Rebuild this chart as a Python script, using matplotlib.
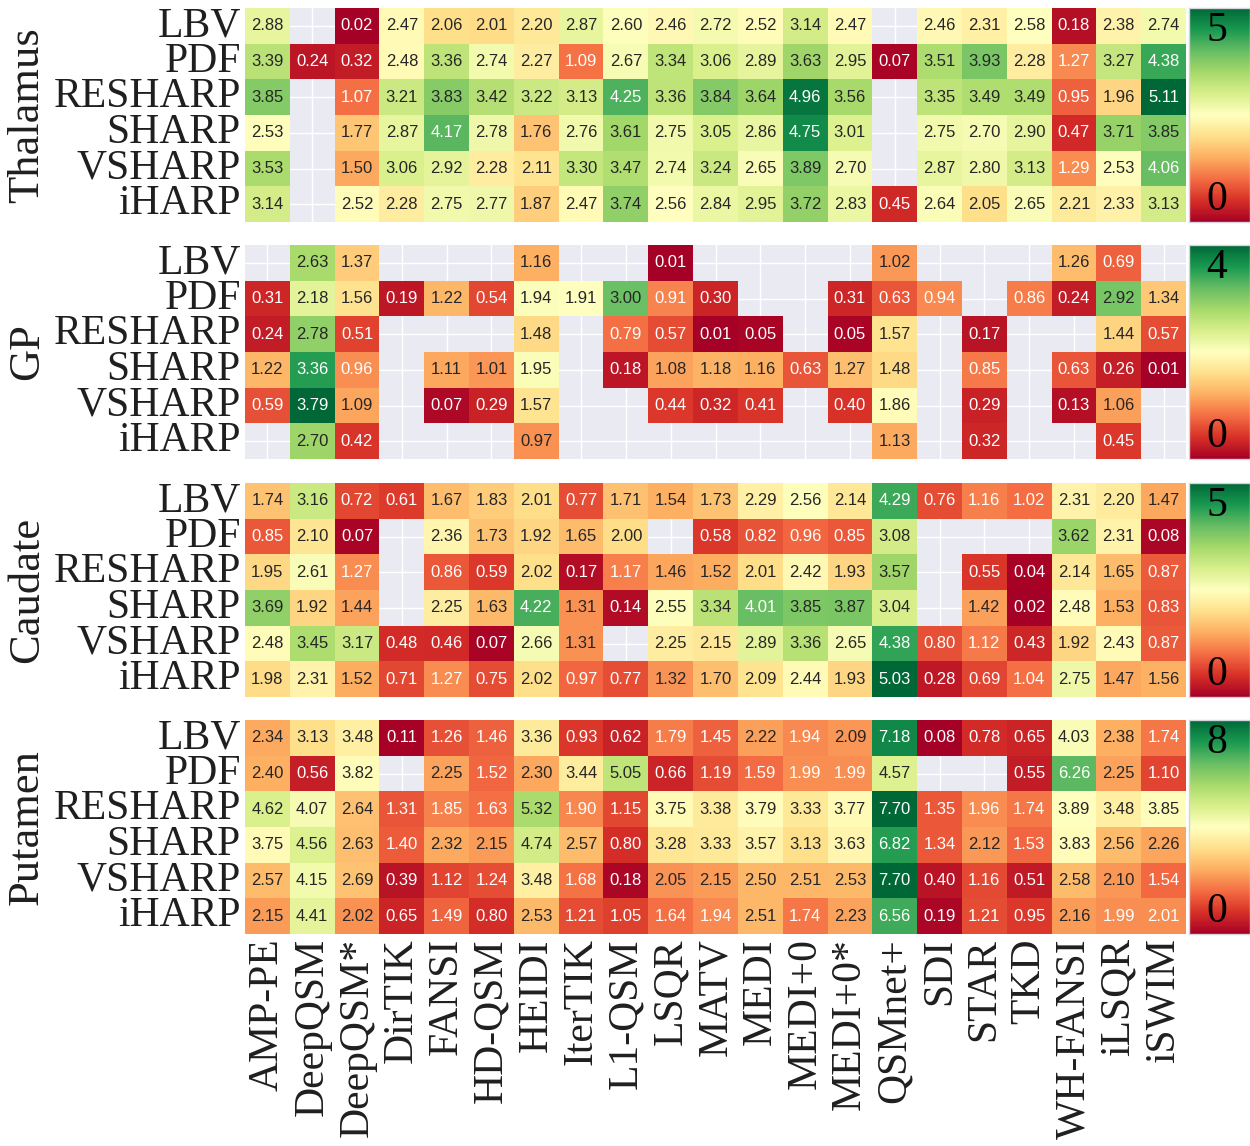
import numpy as np
import matplotlib
matplotlib.use("Agg")
import matplotlib.pyplot as plt
import seaborn as sns

nan = np.nan

# QSM dipole-inversion methods (columns) and background-field removal methods (rows)
methods = ["AMP-PE", "DeepQSM", "DeepQSM*", "DirTIK", "FANSI", "HD-QSM", "HEIDI",
           "IterTIK", "L1-QSM", "LSQR", "MATV", "MEDI", "MEDI+0", "MEDI+0*",
           "QSMnet+", "SDI", "STAR", "TKD", "WH-FANSI", "iLSQR", "iSWIM"]
bfr_methods = ["LBV", "PDF", "RESHARP", "SHARP", "VSHARP", "iHARP"]

thalamus = [
    [2.88, nan, 0.02, 2.47, 2.06, 2.01, 2.20, 2.87, 2.60, 2.46, 2.72, 2.52, 3.14, 2.47, nan, 2.46, 2.31, 2.58, 0.18, 2.38, 2.74],
    [3.39, 0.24, 0.32, 2.48, 3.36, 2.74, 2.27, 1.09, 2.67, 3.34, 3.06, 2.89, 3.63, 2.95, 0.07, 3.51, 3.93, 2.28, 1.27, 3.27, 4.38],
    [3.85, nan, 1.07, 3.21, 3.83, 3.42, 3.22, 3.13, 4.25, 3.36, 3.84, 3.64, 4.96, 3.56, nan, 3.35, 3.49, 3.49, 0.95, 1.96, 5.11],
    [2.53, nan, 1.77, 2.87, 4.17, 2.78, 1.76, 2.76, 3.61, 2.75, 3.05, 2.86, 4.75, 3.01, nan, 2.75, 2.70, 2.90, 0.47, 3.71, 3.85],
    [3.53, nan, 1.50, 3.06, 2.92, 2.28, 2.11, 3.30, 3.47, 2.74, 3.24, 2.65, 3.89, 2.70, nan, 2.87, 2.80, 3.13, 1.29, 2.53, 4.06],
    [3.14, nan, 2.52, 2.28, 2.75, 2.77, 1.87, 2.47, 3.74, 2.56, 2.84, 2.95, 3.72, 2.83, 0.45, 2.64, 2.05, 2.65, 2.21, 2.33, 3.13],
]

gp = [
    [nan, 2.63, 1.37, nan, nan, nan, 1.16, nan, nan, 0.01, nan, nan, nan, nan, 1.02, nan, nan, nan, 1.26, 0.69, nan],
    [0.31, 2.18, 1.56, 0.19, 1.22, 0.54, 1.94, 1.91, 3.00, 0.91, 0.30, nan, nan, 0.31, 0.63, 0.94, nan, 0.86, 0.24, 2.92, 1.34],
    [0.24, 2.78, 0.51, nan, nan, nan, 1.48, nan, 0.79, 0.57, 0.01, 0.05, nan, 0.05, 1.57, nan, 0.17, nan, nan, 1.44, 0.57],
    [1.22, 3.36, 0.96, nan, 1.11, 1.01, 1.95, nan, 0.18, 1.08, 1.18, 1.16, 0.63, 1.27, 1.48, nan, 0.85, nan, 0.63, 0.26, 0.01],
    [0.59, 3.79, 1.09, nan, 0.07, 0.29, 1.57, nan, nan, 0.44, 0.32, 0.41, nan, 0.40, 1.86, nan, 0.29, nan, 0.13, 1.06, nan],
    [nan, 2.70, 0.42, nan, nan, nan, 0.97, nan, nan, nan, nan, nan, nan, nan, 1.13, nan, 0.32, nan, nan, 0.45, nan],
]

caudate = [
    [1.74, 3.16, 0.72, 0.61, 1.67, 1.83, 2.01, 0.77, 1.71, 1.54, 1.73, 2.29, 2.56, 2.14, 4.29, 0.76, 1.16, 1.02, 2.31, 2.20, 1.47],
    [0.85, 2.10, 0.07, nan, 2.36, 1.73, 1.92, 1.65, 2.00, nan, 0.58, 0.82, 0.96, 0.85, 3.08, nan, nan, nan, 3.62, 2.31, 0.08],
    [1.95, 2.61, 1.27, nan, 0.86, 0.59, 2.02, 0.17, 1.17, 1.46, 1.52, 2.01, 2.42, 1.93, 3.57, nan, 0.55, 0.04, 2.14, 1.65, 0.87],
    [3.69, 1.92, 1.44, nan, 2.25, 1.63, 4.22, 1.31, 0.14, 2.55, 3.34, 4.01, 3.85, 3.87, 3.04, nan, 1.42, 0.02, 2.48, 1.53, 0.83],
    [2.48, 3.45, 3.17, 0.48, 0.46, 0.07, 2.66, 1.31, nan, 2.25, 2.15, 2.89, 3.36, 2.65, 4.38, 0.80, 1.12, 0.43, 1.92, 2.43, 0.87],
    [1.98, 2.31, 1.52, 0.71, 1.27, 0.75, 2.02, 0.97, 0.77, 1.32, 1.70, 2.09, 2.44, 1.93, 5.03, 0.28, 0.69, 1.04, 2.75, 1.47, 1.56],
]

putamen = [
    [2.34, 3.13, 3.48, 0.11, 1.26, 1.46, 3.36, 0.93, 0.62, 1.79, 1.45, 2.22, 1.94, 2.09, 7.18, 0.08, 0.78, 0.65, 4.03, 2.38, 1.74],
    [2.40, 0.56, 3.82, nan, 2.25, 1.52, 2.30, 3.44, 5.05, 0.66, 1.19, 1.59, 1.99, 1.99, 4.57, nan, nan, 0.55, 6.26, 2.25, 1.10],
    [4.62, 4.07, 2.64, 1.31, 1.85, 1.63, 5.32, 1.90, 1.15, 3.75, 3.38, 3.79, 3.33, 3.77, 7.70, 1.35, 1.96, 1.74, 3.89, 3.48, 3.85],
    [3.75, 4.56, 2.63, 1.40, 2.32, 2.15, 4.74, 2.57, 0.80, 3.28, 3.33, 3.57, 3.13, 3.63, 6.82, 1.34, 2.12, 1.53, 3.83, 2.56, 2.26],
    [2.57, 4.15, 2.69, 0.39, 1.12, 1.24, 3.48, 1.68, 0.18, 2.05, 2.15, 2.50, 2.51, 2.53, 7.70, 0.40, 1.16, 0.51, 2.58, 2.10, 1.54],
    [2.15, 4.41, 2.02, 0.65, 1.49, 0.80, 2.53, 1.21, 1.05, 1.64, 1.94, 2.51, 1.74, 2.23, 6.56, 0.19, 1.21, 0.95, 2.16, 1.99, 2.01],
]

regions = ["Thalamus", "GP", "Caudate", "Putamen"]
region_data = [thalamus, gp, caudate, putamen]

sns.set_theme(style="darkgrid")
plt.rcParams["font.family"] = ["Liberation Serif", "DejaVu Serif"]

W, H = 1250, 1146
fig = plt.figure(figsize=(W / 100, H / 100), dpi=100)

# layout in pixels
hm_left, hm_right = 245, 1186
cb_left, cb_right = 1189, 1250
panel_h = 214
tops = [8, 245, 483, 720]

for i, (name, data) in enumerate(zip(regions, region_data)):
    top = tops[i]
    y0 = 1 - (top + panel_h) / H
    ax = fig.add_axes([hm_left / W, y0, (hm_right - hm_left) / W, panel_h / H])
    cax = fig.add_axes([cb_left / W, y0, (cb_right - cb_left) / W, panel_h / H])
    arr = np.array(data, dtype=float)
    vmin, vmax = np.nanmin(arr), np.nanmax(arr)
    sns.heatmap(arr, ax=ax, cbar_ax=cax, cmap="RdYlGn", vmin=vmin, vmax=vmax,
                annot=True, fmt=".2f",
                annot_kws=dict(fontsize=12, family="Liberation Sans"),
                xticklabels=methods, yticklabels=bfr_methods)
    ax.set_yticklabels(bfr_methods, rotation=0, fontsize=30, color="0.12")
    ax.tick_params(axis="y", pad=3, length=0)
    if i == len(regions) - 1:
        ax.set_xticklabels(methods, rotation=90, fontsize=30, color="0.12")
        ax.tick_params(axis="x", pad=3, length=0)
    else:
        ax.tick_params(axis="x", labelbottom=False, length=0)
    ax.set_ylabel(name, fontsize=32, color="0.12")
    ax.yaxis.set_label_coords((47 - hm_left) / (hm_right - hm_left), 0.5)

    cbar = ax.collections[0].colorbar
    cbar.set_ticks([])
    cbar.outline.set_edgecolor("#d4d4dc")
    cbar.outline.set_linewidth(1.0)
    cax.text(0.45, 0.985, f"{vmax:.0f}", transform=cax.transAxes, ha="center",
             va="top", fontsize=30, color="black")
    cax.text(0.45, 0.015, f"{vmin:.0f}", transform=cax.transAxes, ha="center",
             va="bottom", fontsize=30, color="black")

fig.savefig("out.png", dpi=100, facecolor="white")
